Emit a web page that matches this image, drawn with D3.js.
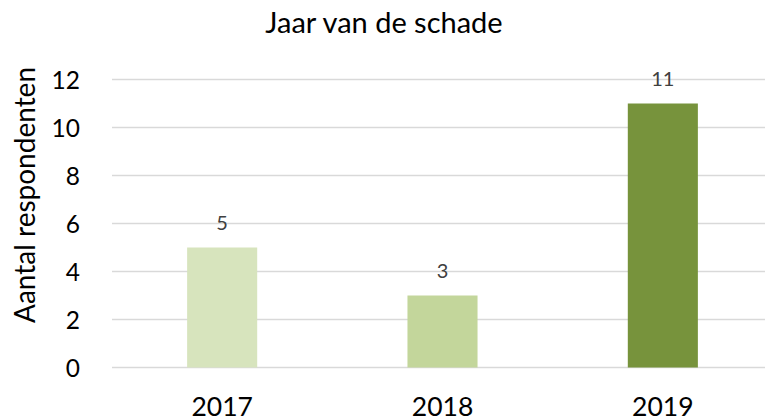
<!DOCTYPE html>
<html><head><meta charset="utf-8">
<script src="https://cdn.jsdelivr.net/npm/d3@7"></script>
<style>body{margin:0;background:#fff;} svg{display:block;}</style>
</head><body>
<svg id="c" width="765" height="420"></svg>
<script>
const categories = ["2017", "2018", "2019"];
const values = [5, 3, 11];
const colors = ["#d7e4bd", "#c3d69b", "#77933c"];
const yTicks = [0, 2, 4, 6, 8, 10, 12];
const title = "Jaar van de schade";
const yTitle = "Aantal respondenten";

const svg = d3.select("#c");
const font = "Lato, 'Noto Sans', sans-serif";
const x = d3.scaleBand().domain(categories).range([112, 773]).paddingInner(0.682).paddingOuter(0.341);
const y = d3.scaleLinear().domain([0, 12]).range([367.5, 79.5]);

svg.append("g").selectAll("line").data(yTicks).join("line")
  .attr("x1", 112).attr("x2", 765)
  .attr("y1", d => y(d)).attr("y2", d => y(d))
  .attr("stroke", "#d9d9d9").attr("stroke-width", 1.5);

svg.append("g").selectAll("rect").data(values).join("rect")
  .attr("x", (d, i) => x(categories[i]))
  .attr("width", x.bandwidth())
  .attr("y", d => y(d))
  .attr("height", d => y(0) - y(d))
  .attr("fill", (d, i) => colors[i]);

svg.append("g").selectAll("text").data(values).join("text")
  .attr("x", (d, i) => x(categories[i]) + x.bandwidth() / 2)
  .attr("y", d => y(d) - 17.5)
  .attr("text-anchor", "middle")
  .attr("font-family", font).attr("font-size", 20).attr("fill", "#404040")
  .text(d => d);

const yAxis = d3.axisLeft(y).tickValues(yTicks).tickSize(0).tickPadding(0);
const yg = svg.append("g").attr("transform", "translate(80,0)").call(yAxis);
yg.select(".domain").remove();
yg.selectAll("text").attr("font-family", font).attr("font-size", 24.5).attr("fill", "#000").attr("dy", "0.36em");

const xAxis = d3.axisBottom(x).tickSize(0).tickPadding(0);
const xg = svg.append("g").attr("transform", "translate(0,397)").call(xAxis);
xg.select(".domain").remove();
xg.selectAll("text").attr("font-family", font).attr("font-size", 26.5).attr("fill", "#000").attr("dy", "0.71em");

svg.append("text").attr("x", 384).attr("y", 33).attr("text-anchor", "middle")
  .attr("font-family", font).attr("font-size", 29).attr("fill", "#000").text(title);

svg.append("text").attr("transform", "translate(35,195) rotate(-90)").attr("text-anchor", "middle")
  .attr("font-family", font).attr("font-size", 28).attr("fill", "#000").text(yTitle);
</script>
</body></html>
